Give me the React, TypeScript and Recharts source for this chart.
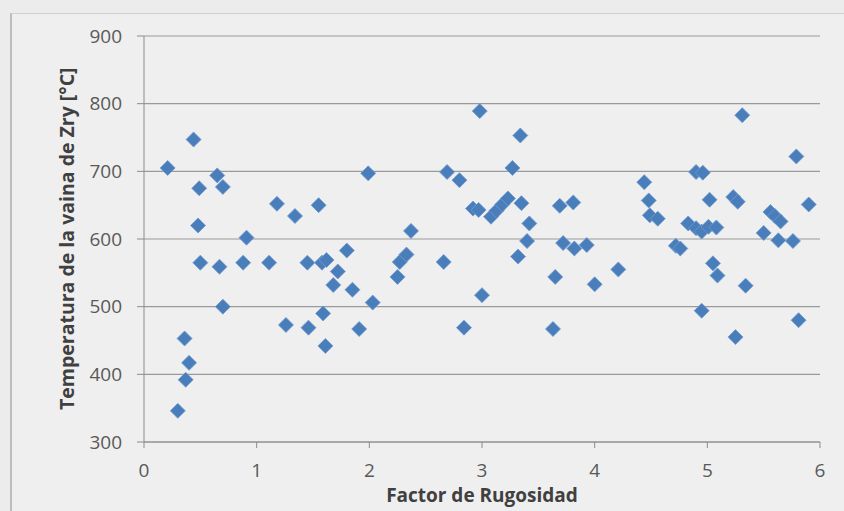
import React from 'react'
import {
  ScatterChart,
  Scatter,
  XAxis,
  YAxis,
  CartesianGrid,
} from 'recharts'

// roughness factor (x) and cladding temperature in °C (y)
const factor = [
  0.21, 0.44, 0.49, 0.65, 0.7, 1.18, 1.34, 1.55, 1.99, 0.48, 0.91, 0.5, 0.67, 0.88, 1.11,
  1.45, 1.58, 1.62, 1.8, 1.72, 1.68, 1.85, 2.03, 0.7, 1.59, 1.26, 1.46, 1.91, 1.61, 0.36,
  0.4, 0.37, 0.3,
  2.98, 3.34, 2.69, 2.8, 3.27, 2.92, 2.97, 3.08, 3.13, 3.18, 3.23, 3.35, 3.42, 3.4, 3.32,
  2.37, 2.27, 2.33, 2.25, 2.66, 3.0, 2.84, 3.69, 3.81, 3.72, 3.82, 3.93, 3.65, 4.0, 3.63,
  4.21, 4.44, 4.48, 4.49, 4.56, 4.72, 4.76, 4.9, 4.96, 4.83, 4.9, 4.95, 5.01, 5.08, 5.02,
  5.05, 5.09, 4.95, 5.31, 5.23, 5.27, 5.34, 5.25, 5.5, 5.56, 5.6, 5.65, 5.63, 5.76, 5.79,
  5.9, 5.81,
]
const temperatura = [
  705, 747, 675, 694, 677, 652, 634, 650, 697, 620, 602, 565, 559, 565, 565,
  565, 565, 569, 583, 552, 532, 525, 506, 500, 490, 473, 469, 467, 442, 453,
  417, 392, 346,
  789, 753, 699, 687, 705, 645, 643, 633, 642, 651, 660, 653, 623, 597, 574,
  612, 566, 577, 544, 566, 517, 469, 649, 654, 594, 586, 591, 544, 533, 467,
  555, 684, 657, 635, 630, 590, 586, 699, 698, 623, 616, 611, 618, 617, 658,
  564, 546, 494, 783, 662, 655, 531, 455, 609, 640, 634, 626, 598, 597, 722,
  651, 480,
]
const xTicks = [0, 1, 2, 3, 4, 5, 6]
const yTicks = [300, 400, 500, 600, 700, 800, 900]

const data = factor.map((x, i) => ({ x, y: temperatura[i] }))

const font = '"Open Sans", "DejaVu Sans", sans-serif'

function Diamond(props: any) {
  const { cx, cy } = props
  const r = 7.5
  return (
    <polygon
      points={`${cx},${cy - r} ${cx + r},${cy} ${cx},${cy + r} ${cx - r},${cy}`}
      fill="#4a7ebb"
      stroke="#6f9bd0"
      strokeWidth={0.8}
    />
  )
}

export default function App() {
  return (
    <div style={{ position: 'fixed', left: 0, top: 0, width: 844, height: 511, background: '#ececec', overflow: 'hidden' }}>
      <div
        style={{
          position: 'absolute',
          left: 10,
          top: 13,
          width: 840,
          height: 510,
          borderLeft: '2px solid #bdbdbd',
          borderTop: '1px solid #d0d0d0',
          background: '#efefef',
        }}
      />
      <div style={{ position: 'absolute', left: 0, top: 0 }}>
        <ScatterChart width={844} height={511} margin={{ top: 36, right: 24, bottom: 3, left: 56 }}>
          <CartesianGrid horizontal vertical={false} stroke="#9a9a9a" strokeWidth={1.2} />
          <XAxis
            type="number"
            dataKey="x"
            domain={[0, 6]}
            ticks={xTicks}
            height={66}
            stroke="#8c8c8c"
            tickSize={6}
            tickMargin={16}
            tick={{ fill: '#595959', fontSize: 19, fontFamily: font }}
            label={{
              value: 'Factor de Rugosidad',
              position: 'insideBottom',
              offset: 6,
              fill: '#404040',
              fontSize: 19,
              fontWeight: 'bold',
              fontFamily: font,
            }}
          />
          <YAxis
            type="number"
            dataKey="y"
            domain={[300, 900]}
            ticks={yTicks}
            width={88}
            stroke="#8c8c8c"
            tickSize={7}
            tickMargin={15}
            tick={{ fill: '#595959', fontSize: 19, fontFamily: font }}
            label={{
              value: 'Temperatura de la vaina de Zry [°C]',
              angle: -90,
              position: 'insideLeft',
              offset: 11,
              dy: 171,
              fill: '#404040',
              fontSize: 19.5,
              fontWeight: 'bold',
              fontFamily: font,
            }}
          />
          <Scatter data={data} shape={<Diamond />} isAnimationActive={false} />
        </ScatterChart>
      </div>
    </div>
  )
}
